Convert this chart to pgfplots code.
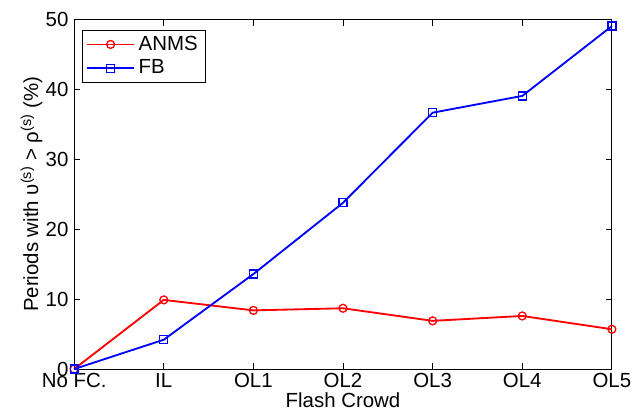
\documentclass[border=0pt]{standalone}
\usepackage{fontspec}
\setmainfont{Liberation Sans}
\usepackage{pgfplots}
\pgfplotsset{compat=1.18}

\begin{document}
\fontsize{15.5}{18}\selectfont
\begin{tikzpicture}
\begin{axis}[
    scale only axis,
    width=408pt, height=265pt,
    xmin=0, xmax=6,
    ymin=0, ymax=50,
    xtick={0,1,2,3,4,5,6},
    xticklabels={No FC.,IL,OL1,OL2,OL3,OL4,OL5},
    ytick={0,10,20,30,40,50},
    tick pos=both,
    tick align=inside,
    major tick length=4.5pt,
    /pgf/number format/assume math mode=true,
    tick label style={font=\fontsize{15.5}{18}\selectfont},
    label style={font=\fontsize{15.5}{18}\selectfont},
    xticklabel style={yshift=2pt},
    yticklabel style={xshift=1pt},
    xlabel={Flash Crowd},
    ylabel={Periods with υ\textsuperscript{(s)} > ρ\textsuperscript{(s)} (\%)},
    xlabel style={yshift=7pt},
    ylabel style={yshift=-8pt},
    axis line style={line width=0.75pt},
    every tick/.style={black, line width=0.6pt},
    legend style={at={(0.015,0.97)}, anchor=north west, draw=black,
        font=\fontsize{15.5}{18}\selectfont,
        inner xsep=3pt, inner ysep=2pt, row sep=1pt,
        nodes={inner xsep=3pt}},
    legend image code/.code={%
        \draw[mark repeat=2,mark phase=2,#1,line width=1.4pt] plot coordinates {(0cm,0cm) (0.62cm,0cm) (1.24cm,0cm)};},
    legend cell align=left,
    clip=false,
]
\addplot[red, line width=1.4pt, mark=o, mark size=3pt, mark options={line width=1pt}]
coordinates {(0,0) (1,9.9) (2,8.4) (3,8.7) (4,6.9) (5,7.6) (6,5.7)};
\addlegendentry{ANMS}
\addplot[blue, line width=1.4pt, mark=square, mark size=3pt, mark options={line width=1pt}]
coordinates {(0,0) (1,4.2) (2,13.6) (3,23.8) (4,36.7) (5,39.1) (6,49.1)};
\addlegendentry{FB}
\end{axis}
\path (current axis.south west) ++(-56.25pt,-36.75pt) coordinate (bl);
\path (current axis.north east) ++(14.25pt,15pt) coordinate (tr);
\useasboundingbox (bl) rectangle (tr);
\end{tikzpicture}
\end{document}
